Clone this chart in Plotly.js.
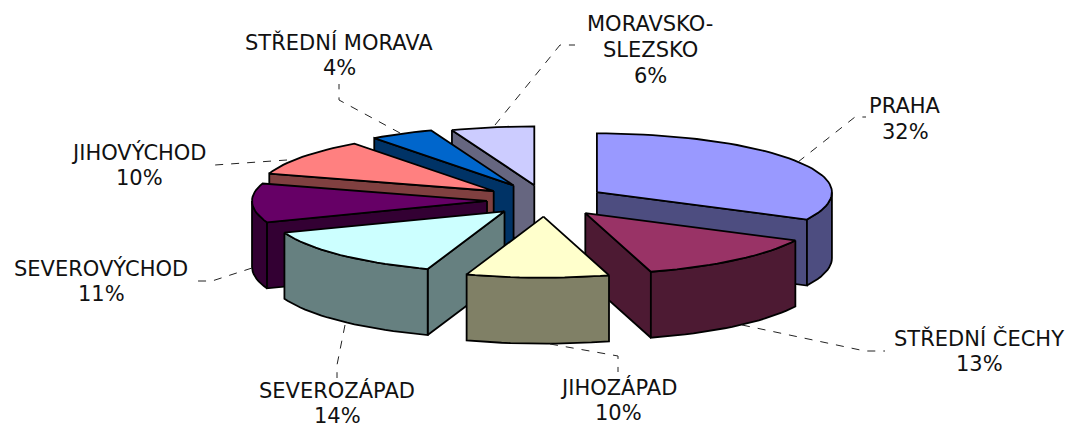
<!DOCTYPE html>
<html><head><meta charset="utf-8">
<script src="https://cdn.plot.ly/plotly-3.0.1.min.js"></script>
<style>html,body{margin:0;padding:0;background:#fff;overflow:hidden}#c{width:1071px;height:423px}</style>
</head><body><div id="c"></div>
<script>
const regions = ['PRAHA','STŘEDNÍ ČECHY','JIHOZÁPAD','SEVEROZÁPAD','SEVEROVÝCHOD','JIHOVÝCHOD','STŘEDNÍ MORAVA','MORAVSKO-SLEZSKO'];
const shares = [32.4,13.1,9.8,14.0,10.5,10.1,4.4,5.7];
const explodeBy = [61,63,62,58,58,63,66,60];
const topColors = ['#9999FF','#993366','#FFFFCC','#CCFFFF','#660066','#FF8080','#0066CC','#CCCCFF'];
const wallColors = ['#4D4D80','#4D1A33','#808066','#668080','#330033','#804040','#003366','#666680'];
const labelLines = [['PRAHA'],['STŘEDNÍ ČECHY'],['JIHOZÁPAD'],['SEVEROZÁPAD'],['SEVEROVÝCHOD'],['JIHOVÝCHOD'],['STŘEDNÍ MORAVA'],['MORAVSKO-','SLEZSKO']];
const labelCentres = [[905,106],[979,338],[618,387],[337,390],[101,268],[139,152],[339,42],[650,24]];
const leaders = [
 [[798,162],[855,117],[866,117]],
 [[742,325],[865,351],[885,351]],
 [[550,344],[618,356],[618,372]],
 [[345,325],[337,365],[337,378]],
 [[252,268],[212,281],[195,281]],
 [[287,160],[215,165]],
 [[400,133],[339,100],[339,84]],
 [[495,125],[560,45],[575,45]]
];
// pie geometry (pixels, the axes below map 1:1 to the page)
const CX=545, CY=200.5, R=235, K_FRONT=0.26, K_BACK=0.25, DEPTH=66;
const LINE_H=26;
const drawOrder=[7,6,5,4,3,0,1,2];

const total=shares.reduce((a,b)=>a+b,0);
let acc=0;
const slices=shares.map((v,i)=>{const a0=acc/total*2*Math.PI;acc+=v;return {a0,a1:acc/total*2*Math.PI,e:explodeBy[i]};});
const pt=(s,a,rr,d)=>{
  const m=(s.a0+s.a1)/2;
  const ax=CX+s.e*Math.sin(m), ay=CY-s.e*K_FRONT*Math.cos(m);
  const k=Math.cos(a)>0?K_BACK:K_FRONT;
  return [ax+rr*R*Math.sin(a), ay-rr*R*k*Math.cos(a)+d];
};
const arc=(s,a0,a1,d)=>{const n=Math.max(2,Math.ceil((a1-a0)/0.04));const o=[];for(let i=0;i<=n;i++)o.push(pt(s,a0+(a1-a0)*i/n,1,d));return o;};
const traces=[];
function poly(p,fill){traces.push({type:'scatter',mode:'lines',x:p.map(q=>q[0]).concat(p[0][0]),y:p.map(q=>q[1]).concat(p[0][1]),
  fill:'toself',fillcolor:fill,line:{color:'#000',width:1.8},hoverinfo:'skip',showlegend:false});}
drawOrder.forEach(i=>{
  const s=slices[i];
  const PI=Math.PI;
  if(s.a0>=PI-1e-6) poly([pt(s,0,0,0),pt(s,s.a0,1,0),pt(s,s.a0,1,DEPTH),pt(s,0,0,DEPTH)],wallColors[i]);
  if(s.a1<=PI+1e-6 && s.a1>0) poly([pt(s,0,0,0),pt(s,s.a1,1,0),pt(s,s.a1,1,DEPTH),pt(s,0,0,DEPTH)],wallColors[i]);
  const w0=Math.max(s.a0,PI/2), w1=Math.min(s.a1,3*PI/2);
  if(w1>w0){const t=arc(s,w0,w1,0),b=arc(s,w0,w1,DEPTH).reverse();poly(t.concat(b),wallColors[i]);}
  poly([pt(s,0,0,0)].concat(arc(s,s.a0,s.a1,0)),topColors[i]);
});
leaders.forEach(l=>traces.push({type:'scatter',mode:'lines',x:l.map(q=>q[0]),y:l.map(q=>q[1]),
  line:{color:'#222',width:1,dash:'8px,8px'},hoverinfo:'skip',showlegend:false}));
const anns=[];
labelLines.forEach((ls,i)=>{
  const all=ls.concat([Math.round(shares[i]/total*100)+'%']);
  all.forEach((t,j)=>anns.push({x:labelCentres[i][0],y:labelCentres[i][1]+j*LINE_H,text:t,showarrow:false,
    xanchor:'center',yanchor:'middle',xref:'x',yref:'y',font:{family:'DejaVu Sans',size:21,color:'#111'}}));
});
Plotly.newPlot('c',traces,{width:1071,height:423,margin:{l:0,r:0,t:0,b:0},paper_bgcolor:'#fff',plot_bgcolor:'#fff',showlegend:false,
  xaxis:{range:[0,1071],visible:false,fixedrange:true},yaxis:{range:[423,0],visible:false,fixedrange:true},annotations:anns},{displayModeBar:false,staticPlot:true});
</script></body></html>
